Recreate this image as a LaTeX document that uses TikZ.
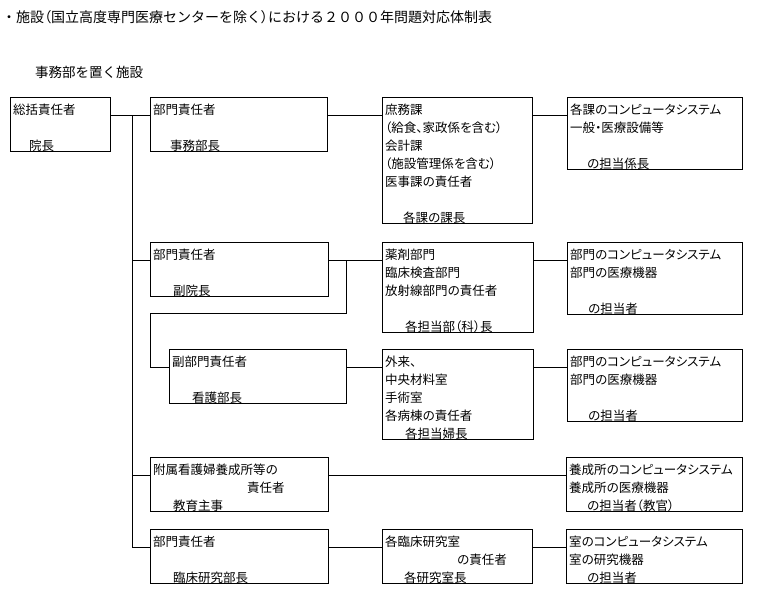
\documentclass[tikz,border=0pt]{standalone}
\usepackage{fontspec}
\setmainfont{Noto Sans CJK JP}[RawFeature=+palt]
\newfontfamily\jpfull{Noto Sans CJK JP}
\usetikzlibrary{calc}
\tikzset{
  box/.style={draw, line width=0.9pt, anchor=north west, inner sep=0pt},
  txt/.style={anchor=north west, inner sep=0pt, align=left, font=\fontsize{12.5}{18}\selectfont},
  conn/.style={line width=0.9pt},
  heading/.style={anchor=base west, inner sep=0pt, font=\jpfull\fontsize{14}{16}\selectfont},
}
\newcommand{\mkbox}[6]{%
  \node[box, minimum width=#4pt, minimum height=#5pt] (#1) at (#2,#3) {};
  \node[txt] (#1t) at ($(#1.north west)+(3,4.2)$) {#6};
  \coordinate (#1w) at ([yshift=-18pt]#1.north west);
  \coordinate (#1e) at ([yshift=-18pt]#1.north east);
}
\newcommand{\ind}[1]{\hspace*{#1pt}}
\begin{document}
\begin{tikzpicture}[x=1pt,y=-1pt]
\useasboundingbox (0,0) rectangle (763,613);
\node[heading] (title) at (2,23) {・施設{\rmfamily（}国立高度専門医療センターを除く{\rmfamily）}における２０００年問題対応体制表};
\node[heading, font=\jpfull\fontsize{13.5}{16}\selectfont] (sub) at (35,77.5) {事務部を置く施設};

\mkbox{A}{10}{97}{100}{54}{\strut 総括責任者\\\strut\\\strut\ind{16}院長}
\mkbox{B1}{150}{97}{177}{54}{\strut 部門責任者\\\strut\\\strut\ind{17}事務部長}
\mkbox{C1}{382}{97}{150}{126}{\strut 庶務課\\\strut（給食、家政係を含む）\\\strut 会計課\\\strut（施設管理係を含む）\\\strut 医事課の責任者\\\strut\\\strut\ind{18}各課の課長}
\mkbox{D1}{567}{97}{175}{72}{\strut 各課のコンピュータシステム\\\strut 一般・医療設備等\\\strut\\\strut\ind{17}の担当係長}

\mkbox{B2}{150}{242}{178}{54}{\strut 部門責任者\\\strut\\\strut\ind{20}副院長}
\mkbox{C2}{382}{242}{151}{90}{\strut 薬剤部門\\\strut 臨床検査部門\\\strut 放射線部門の責任者\\\strut\\\strut\ind{20}各担当部（科）長}
\mkbox{D2}{567}{242}{175}{72}{\strut 部門のコンピュータシステム\\\strut 部門の医療機器\\\strut\\\strut\ind{18}の担当者}

\mkbox{B3}{169}{349}{177}{54}{\strut 副部門責任者\\\strut\\\strut\ind{20}看護部長}
\mkbox{C3}{382}{349}{151}{90}{\strut 外来、\\\strut 中央材料室\\\strut 手術室\\\strut 各病棟の責任者\\\strut\ind{20}各担当婦長}
\mkbox{D3}{567}{349}{175}{72}{\strut 部門のコンピュータシステム\\\strut 部門の医療機器\\\strut\\\strut\ind{18}の担当者}

\mkbox{B4}{150}{457}{178}{54}{\strut 附属看護婦養成所等の\\\strut\ind{94}責任者\\\strut\ind{20}教育主事}
\mkbox{D4}{566}{457}{176}{54}{\strut 養成所のコンピュータシステム\\\strut 養成所の医療機器\\\strut\ind{18}の担当者（教官）}

\mkbox{B5}{150}{529}{178}{54}{\strut 部門責任者\\\strut\\\strut\ind{20}臨床研究部長}
\mkbox{C5}{382}{529}{150}{54}{\strut 各臨床研究室\\\strut\ind{72}の責任者\\\strut\ind{19}各研究室長}
\mkbox{D5}{566}{529}{176}{54}{\strut 室のコンピュータシステム\\\strut 室の研究機器\\\strut\ind{18}の担当者}

\coordinate (T) at (132,0);
\coordinate (J) at (346,0);
\coordinate (K) at (150,313);

\draw[conn] (Ae) -- (B1w);
\draw[conn] (Ae -| T) -- (B5w -| T);
\draw[conn] (B1e) -- (C1w);
\draw[conn] (C1e) -- (D1w);

\draw[conn] (B2w) -- (B2w -| T);
\draw[conn] (B2e) -- (C2w);
\draw[conn] (C2e) -- (D2w);
\draw[conn] (B2e -| J) |- (K) |- (B3w);

\draw[conn] (B3e) -- (C3w);
\draw[conn] (C3e) -- (D3w);

\draw[conn] (B4w) -- (B4w -| T);
\draw[conn] (B4e) -- (D4w);

\draw[conn] (B5w) -- (B5w -| T);
\draw[conn] (B5e) -- (C5w);
\draw[conn] (C5e) -- (D5w);
\end{tikzpicture}
\end{document}
